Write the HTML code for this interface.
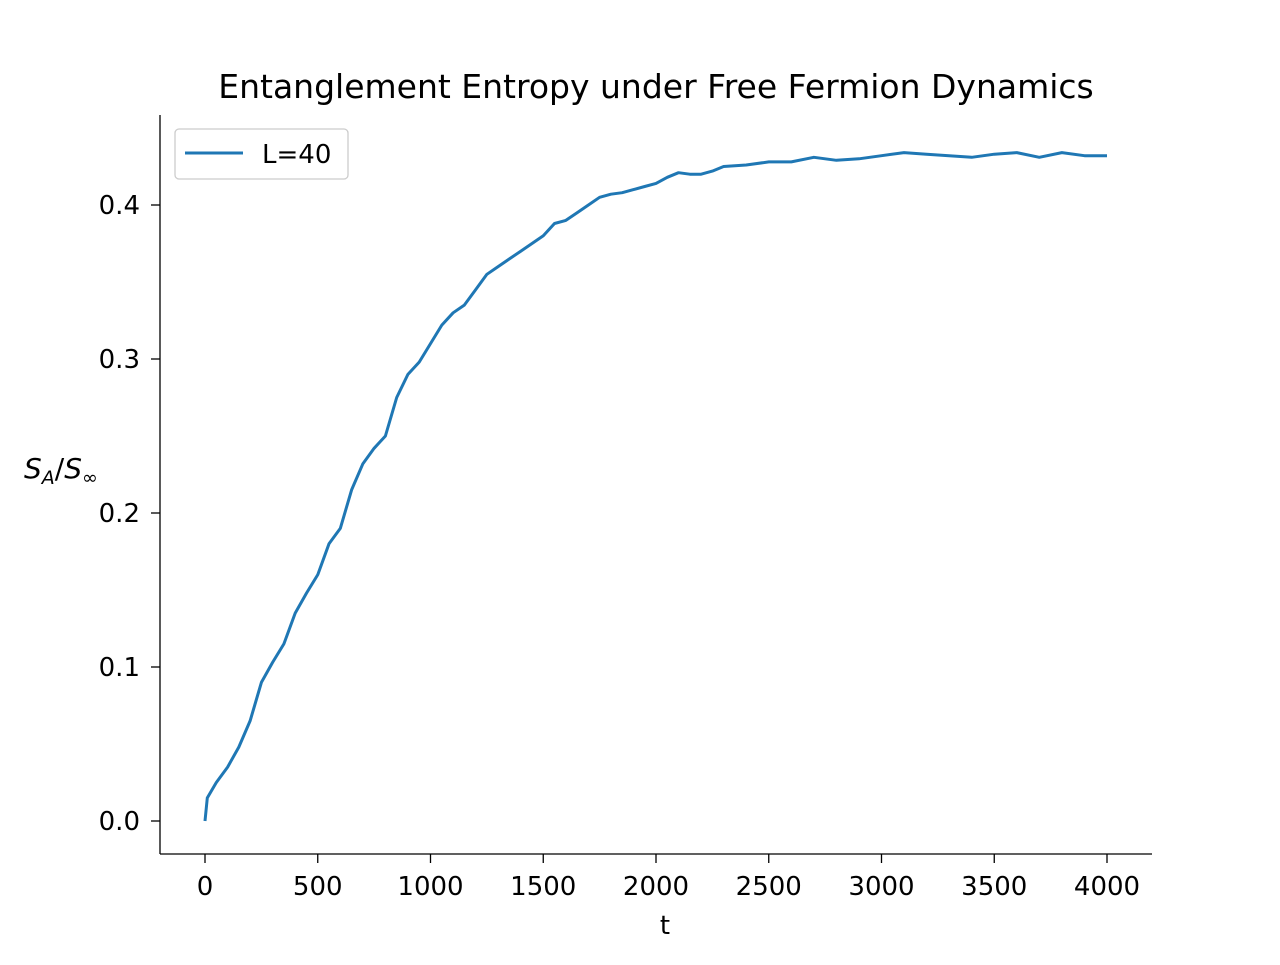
<!DOCTYPE html>
<html><head><meta charset="utf-8"><style>
body{margin:0;background:#fff;}
svg text{font-family:"DejaVu Sans","Liberation Sans",sans-serif;fill:#000;}
</style></head><body>
<svg id="chart" width="1280" height="960" xmlns="http://www.w3.org/2000/svg">
<rect width="1280" height="960" fill="#fff"/>
<text x="656" y="98" font-size="33" text-anchor="middle">Entanglement Entropy under Free Fermion Dynamics</text>
<g id="plot"></g>
<line x1="160" y1="115" x2="160" y2="854" stroke="#000" stroke-width="1.3"/>
<line x1="160" y1="854" x2="1152" y2="854" stroke="#000" stroke-width="1.3"/>
<g id="xticks"></g><g id="yticks"></g>
<text x="665" y="934" font-size="26" text-anchor="middle">t</text>
<text x="24" y="478" font-size="28" font-style="italic">S<tspan font-size="19" dy="6">A</tspan><tspan dy="-6" font-style="normal">/</tspan>S<tspan font-size="19" dy="6">∞</tspan></text>
<g>
<rect x="175" y="129" width="173" height="50" rx="4" fill="#fff" stroke="#ccc" stroke-width="1.3"/>
<line x1="185" y1="153" x2="243" y2="153" stroke="#1f77b4" stroke-width="3"/>
<text x="262" y="163" font-size="26">L=40</text>
</g>
</svg>
<script>
const tValues=[0,10,50,100,150,200,250,300,350,400,450,500,550,600,650,700,750,800,850,900,950,1000,1050,1100,1150,1200,1250,1300,1350,1400,1450,1500,1550,1600,1650,1700,1750,1800,1850,1900,1950,2000,2050,2100,2150,2200,2250,2300,2400,2500,2600,2700,2800,2900,3000,3100,3200,3300,3400,3500,3600,3700,3800,3900,4000];
const sValues=[0,0.015,0.025,0.035,0.048,0.065,0.09,0.103,0.115,0.135,0.148,0.16,0.18,0.19,0.215,0.232,0.242,0.25,0.275,0.29,0.298,0.31,0.322,0.33,0.335,0.345,0.355,0.36,0.365,0.37,0.375,0.38,0.388,0.39,0.395,0.4,0.405,0.407,0.408,0.41,0.412,0.414,0.418,0.421,0.42,0.42,0.422,0.425,0.426,0.428,0.428,0.431,0.429,0.43,0.432,0.434,0.433,0.432,0.431,0.433,0.434,0.431,0.434,0.432,0.432];
const xTicks=[0,500,1000,1500,2000,2500,3000,3500,4000];
const yTicks=[0.0,0.1,0.2,0.3,0.4];
const X=v=>205+v*(1107-205)/4000;
const Y=v=>821-v*(821-205)/0.4;
const NS="http://www.w3.org/2000/svg";
const plot=document.getElementById('plot');
const p=document.createElementNS(NS,'path');
p.setAttribute('d',tValues.map((t,i)=>(i?'L':'M')+X(t).toFixed(1)+','+Y(sValues[i]).toFixed(1)).join(''));
p.setAttribute('fill','none');p.setAttribute('stroke','#1f77b4');p.setAttribute('stroke-width','3');p.setAttribute('stroke-linejoin','round');


plot.appendChild(p);
const xg=document.getElementById('xticks');
xTicks.forEach(v=>{
 const l=document.createElementNS(NS,'line');
 l.setAttribute('x1',X(v));l.setAttribute('x2',X(v));l.setAttribute('y1',854);l.setAttribute('y2',863);l.setAttribute('stroke','#000');l.setAttribute('stroke-width','1.3');
 
 
 xg.appendChild(l);
 const t=document.createElementNS(NS,'text');
 t.setAttribute('x',X(v));t.setAttribute('y',895);t.setAttribute('font-size','26');t.setAttribute('text-anchor','middle');t.textContent=v;
 
 
 xg.appendChild(t);
});
const yg=document.getElementById('yticks');
yTicks.forEach(v=>{
 const l=document.createElementNS(NS,'line');
 l.setAttribute('x1',151);l.setAttribute('x2',160);l.setAttribute('y1',Y(v));l.setAttribute('y2',Y(v));l.setAttribute('stroke','#000');l.setAttribute('stroke-width','1.3');
 
 
 yg.appendChild(l);
 const t=document.createElementNS(NS,'text');
 t.setAttribute('x',140);t.setAttribute('y',Y(v)+9);t.setAttribute('font-size','26');t.setAttribute('text-anchor','end');t.textContent=v.toFixed(1);
 
 
 yg.appendChild(t);
});
</script>
</body></html>
